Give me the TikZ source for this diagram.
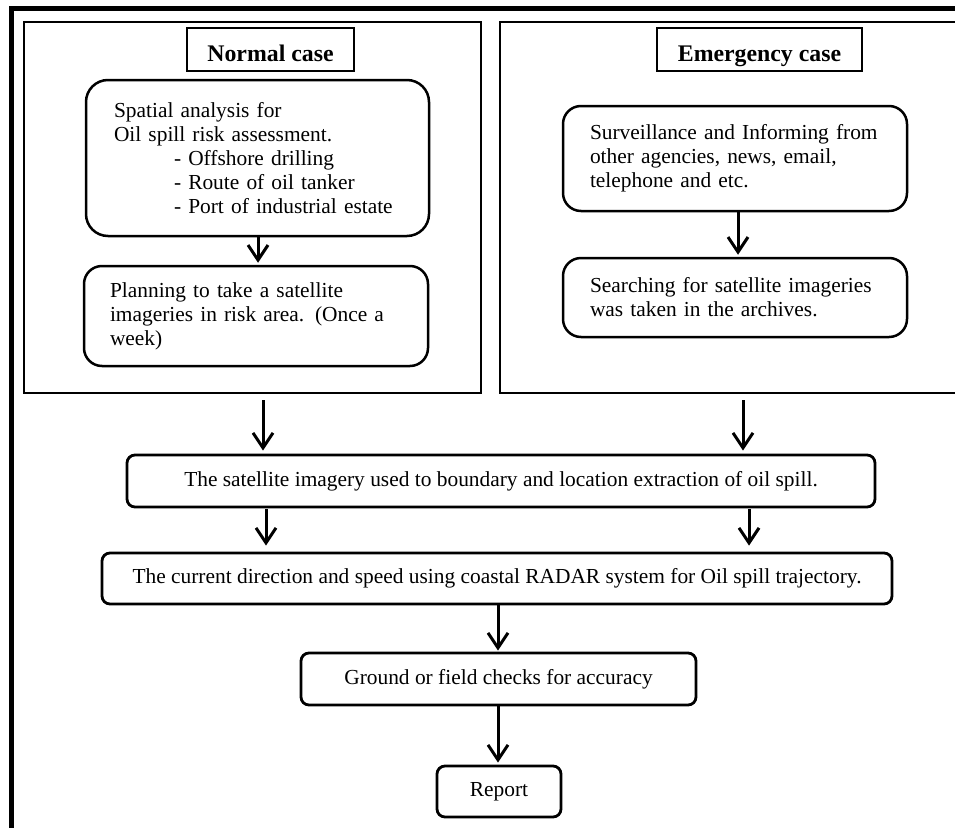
\documentclass[tikz,border=0pt]{standalone}
\usepackage{fontspec}
\setmainfont{Liberation Serif}
\usetikzlibrary{arrows.meta}
\begin{document}
\begin{tikzpicture}[x=1pt,y=-1pt,
  every node/.style={font=\fontsize{21.4}{24}\selectfont},
  panel/.style={draw,line width=2pt,inner sep=0pt,minimum height=371pt},
  header/.style={draw,line width=1.3pt,inner sep=0pt,minimum height=43pt,font=\fontsize{23.8}{26}\selectfont\bfseries,text height=33pt,text depth=10pt},
  stepbox/.style={draw,line width=2.5pt,rounded corners=18pt,align=left,inner ysep=0pt,minimum width=344pt},
  flowbox/.style={draw,line width=2.8pt,rounded corners=8pt,inner sep=0pt,minimum height=52pt},
  arr/.style={line width=3pt,-{Straight Barb[length=15pt,width=20pt]}}]
  \useasboundingbox (0,0) rectangle (955,827);
  \draw[line width=4.5pt] (11.5,840) -- (11.5,8.5) -- (970,8.5);
  \node[panel,minimum width=457pt] (normalpanel) at (252.5,207.5) {};
  \node[panel,minimum width=475pt] (emergpanel) at (737.5,207.5) {};
  \node[header,minimum width=167pt] (normalhead) at (270.5,49.5) {Normal case};
  \node[header,minimum width=205pt] (emerghead) at (759.5,49.5) {Emergency case};
  \node[stepbox,rounded corners=22pt,minimum width=343pt,minimum height=156pt,text width=287pt,inner xsep=28pt] (spatial) at (257.5,158)
    {Spatial analysis for\\Oil spill risk assessment.\\\hspace*{60pt}- Offshore drilling\\\hspace*{60pt}- Route of oil tanker\\\hspace*{60pt}- Port of industrial estate};
  \node[stepbox,minimum height=100pt,text width=292pt,inner xsep=26pt] (planning) at (256,316)
    {Planning to take a satellite\\imageries in risk area. (Once a\\week)};
  \node[stepbox,minimum height=105pt,text width=290pt,inner xsep=27pt] (surveil) at (735,158.5)
    {Surveillance and Informing from\\other agencies, news, email,\\telephone and etc.};
  \node[stepbox,minimum height=79pt,text width=290pt,inner xsep=26pt] (search) at (735,297.5)
    {Searching for satellite imageries\\was taken in the archives.};
  \node[flowbox,minimum width=748pt] (satellite) at (501,481) {The satellite imagery used to boundary and location extraction of oil spill.};
  \node[flowbox,minimum width=790pt,minimum height=51pt] (current) at (497,578.5) {The current direction and speed using coastal RADAR system for Oil spill trajectory.};
  \node[flowbox,minimum width=395pt] (ground) at (498.5,679) {Ground or field checks for accuracy};
  \node[flowbox,minimum width=124pt,minimum height=51pt] (report) at (499,791.5) {Report};
  \draw[arr] ([xshift=0.5pt]spatial.south) -- ([xshift=2pt,yshift=2pt]planning.north);
  \draw[arr] ([xshift=3pt]surveil.south) -- ([xshift=3pt,yshift=2pt]search.north);
  \draw[arr] ([xshift=10.5pt,yshift=-6pt]normalpanel.south) -- ([xshift=-238pt,yshift=3pt]satellite.north);
  \draw[arr] ([xshift=5.5pt,yshift=-6pt]emergpanel.south) -- ([xshift=242pt,yshift=3pt]satellite.north);
  \draw[arr] ([xshift=-235pt,yshift=-1pt]satellite.south) -- ([xshift=-231pt,yshift=6pt]current.north);
  \draw[arr] ([xshift=248pt,yshift=-1pt]satellite.south) -- ([xshift=252pt,yshift=6pt]current.north);
  \draw[arr] ([xshift=1pt]current.south) -- ([xshift=-0.5pt,yshift=1pt]ground.north);
  \draw[arr] ([xshift=-0.5pt]ground.south) -- ([xshift=-1pt,yshift=2pt]report.north);
\end{tikzpicture}
\end{document}
